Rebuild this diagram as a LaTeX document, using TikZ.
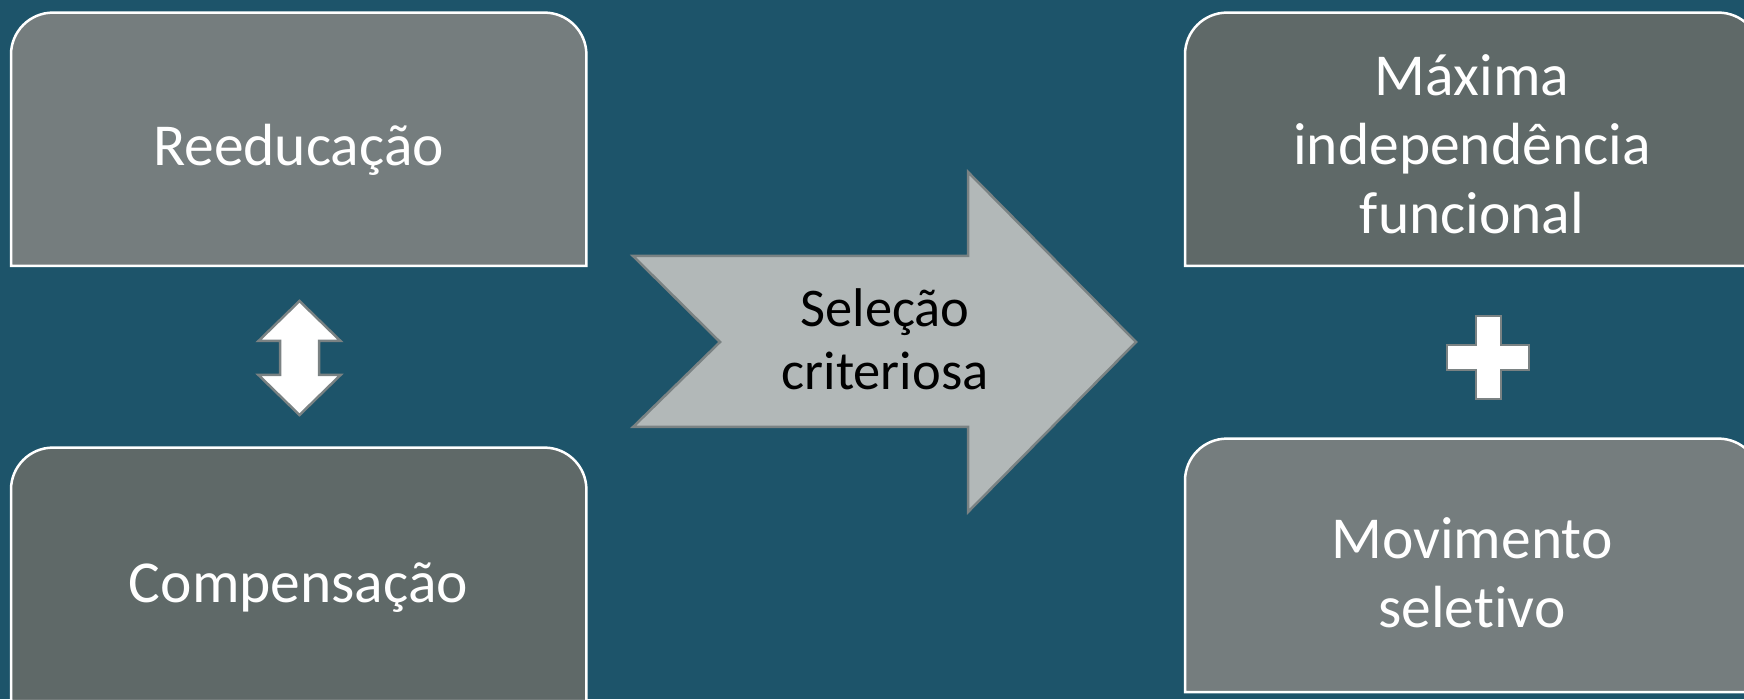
\documentclass[tikz,border=0pt]{standalone}
\usepackage{fontspec}
\setmainfont{Carlito}[Ligatures={NoCommon,NoContextual}]
\definecolor{bg}{HTML}{1D546A}
\definecolor{boxlight}{HTML}{757D7E}
\definecolor{boxdark}{HTML}{5F6968}
\definecolor{arrowfill}{HTML}{B2B8B8}
\definecolor{shapegray}{HTML}{7A8283}
\newcommand\mytopbox[2]{\path[#2] (#1.south west) -- ([yshift=-42pt]#1.north west) arc[start angle=180,end angle=90,radius=42pt] -- ([xshift=-42pt]#1.north east) arc[start angle=90,end angle=0,radius=42pt] -- (#1.south east) -- cycle;}
\begin{document}
\begin{tikzpicture}[x=1pt,y=1pt,
  frame/.style={minimum width=575pt,minimum height=253pt,inner sep=0pt,anchor=south west},
  boxline/.style={draw=white,line width=2.5pt},
  lightbox/.style={boxline,fill=boxlight},
  darkbox/.style={boxline,fill=boxdark},
  boxtext/.style={text=white,font=\fontsize{59.5}{69}\selectfont,align=center,anchor=base,inner sep=0pt},
  arrowtext/.style={text=black,font=\fontsize{54.5}{63}\selectfont,align=center,anchor=base,inner sep=0pt},
  shapeline/.style={draw=shapegray,line width=2.5pt,line join=miter},
]
\fill[bg] (0,0) rectangle (1744,699);
\useasboundingbox (0,0) rectangle (1744,699);

% frames
\node[frame] (A) at (11,433) {};
\node[frame] (B) at (11,-2) {};
\node[frame] (C) at (1185,433) {};
\node[frame] (D) at (1185,7) {};
\mytopbox{A}{lightbox}
\mytopbox{B}{darkbox}
\mytopbox{C}{darkbox}
\mytopbox{D}{lightbox}

% texts (base anchor = baseline of last line)
\node[boxtext] (tA) at (298.5,533) {Reeducação};
\node[boxtext] (tB) at (298.5,97) {Compensação};
\node[boxtext] (tC) at (1472,465) {Máxima\\independência\\funcional};
\node[boxtext] (tD) at (1472,72) {Movimento\\seletivo};

% double arrow
\path[shapeline,fill=white]
  (299.5,398) -- (340.5,358) -- (319,358) -- (319,324) -- (340.5,324)
  -- (299.5,284) -- (258.5,324) -- (280,324) -- (280,358) -- (258.5,358) -- cycle;

% big arrow
\path[shapeline,fill=arrowfill]
  (633,443) -- (968,443) -- (968,527) -- (1136,357) -- (968,187) -- (968,272)
  -- (633,272) -- (720,357) -- cycle;
\node[arrowtext] (tS) at (885,309) {Seleção\\criteriosa};

% plus
\path[shapeline,fill=white]
  (1476,383) -- (1501,383) -- (1501,354) -- (1529,354) -- (1529,329) -- (1501,329)
  -- (1501,300) -- (1476,300) -- (1476,329) -- (1447,329) -- (1447,354) -- (1476,354) -- cycle;
\end{tikzpicture}
\end{document}
